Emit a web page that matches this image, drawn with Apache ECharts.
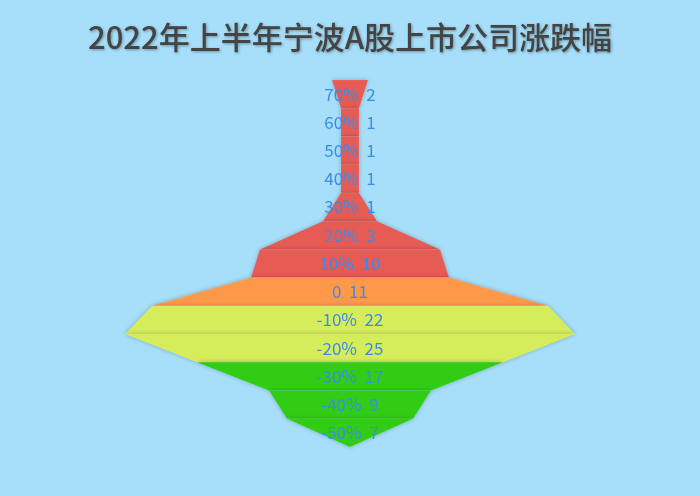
<!DOCTYPE html>
<html>
<head>
<meta charset="utf-8">
<script src="https://cdn.jsdelivr.net/npm/echarts@6/dist/echarts.min.js"></script>
<style>
  html, body { margin: 0; padding: 0; background: #a7dffa; }
  #chart { width: 700px; height: 496px; }
</style>
</head>
<body>
<div id="chart"></div>
<script>
const categories = ["70%", "60%", "50%", "40%", "30%", "20%", "10%", "0", "-10%", "-20%", "-30%", "-40%", "-50%"];
const counts = [2, 1, 1, 1, 1, 3, 10, 11, 22, 25, 17, 9, 7];
const pieceColors = ["#e65c55", "#e65c55", "#e65c55", "#e65c55", "#e65c55", "#e65c55", "#e65c55",
  "#ff994a", "#d5ec5b", "#d5ec5b", "#31cd14", "#31cd14", "#31cd14"];

const chart = echarts.init(document.getElementById("chart"));

chart.setOption({
  backgroundColor: "#a7dffa",
  title: {
    text: "2022年上半年宁波A股上市公司涨跌幅",
    left: "center",
    top: 17,
    textStyle: {
      fontFamily: "Noto Sans CJK SC",
      fontSize: 31,
      fontWeight: 500,
      color: "#444444",
      textShadowColor: "rgba(0,0,0,0.35)",
      textShadowBlur: 3,
      textShadowOffsetX: 1,
      textShadowOffsetY: 1,
    },
  },
  series: [
    {
      type: "funnel",
      sort: "none",
      min: 0,
      max: 25,
      left: 125,
      width: 450,
      top: 80,
      bottom: 49,
      gap: 0,
      label: {
        show: true,
        position: "inside",
        formatter: "{b}  {c}",
        color: "#3a8bec",
        fontSize: 17,
        fontFamily: "Noto Sans CJK SC",
        textBorderWidth: 0,
      },
      itemStyle: {
        borderWidth: 0.5,
        borderColor: "rgba(255,255,255,0.15)",
        shadowBlur: 4,
        shadowColor: "rgba(0,0,0,0.25)",
      },
      emphasis: { disabled: true },
      data: categories.map((name, i) => ({
        name: name,
        value: counts[i],
        itemStyle: { color: pieceColors[i] },
      })),
    },
  ],
});
</script>
</body>
</html>
